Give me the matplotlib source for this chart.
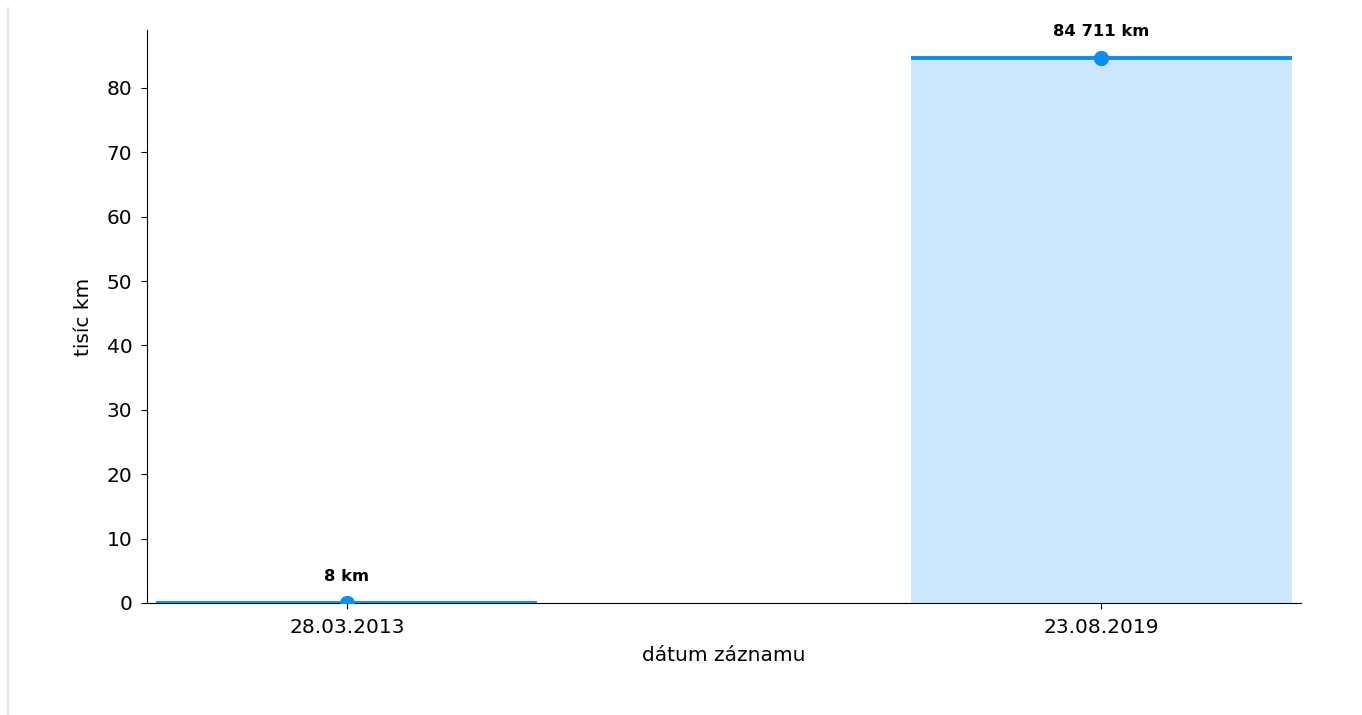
import matplotlib
matplotlib.use("Agg")
import matplotlib.pyplot as plt
from matplotlib.lines import Line2D

# data
dates = ["28.03.2013", "23.08.2019"]
km = [8, 84711]
labels = ["8 km", "84 711 km"]

vals = [v / 1000 for v in km]
pos = list(range(len(dates)))

fig = plt.figure(figsize=(13.62, 7.15), dpi=100)
ax = fig.add_axes([147 / 1362, 1 - 603 / 715, (1301 - 147) / 1362, (603 - 30) / 715])

line_col = "#0a8ef0"
fill_col = "#cce7fc"
w = 0.505

ax.bar(pos, vals, width=w, color=fill_col, zorder=1)
for x, v, lab in zip(pos, vals, labels):
    ax.plot([x - w / 2, x + w / 2], [v, v], color=line_col, lw=2.8, zorder=3, solid_capstyle="butt")
    ax.plot(x, v, "o", color=line_col, ms=10, zorder=4)
    ax.annotate(lab, (x, v), xytext=(0, 13.5), textcoords="offset points",
                ha="center", va="bottom", fontsize=11.8, fontweight="bold")

ax.set_xlim(-0.265, 1.265)
ax.set_ylim(0, 89)
ax.set_xticks(pos)
ax.set_xticklabels(dates)
ax.set_yticks(range(0, 90, 10))
ax.tick_params(labelsize=14.5, length=4.5)
ax.tick_params(axis="x", pad=6.5)
ax.tick_params(axis="y", pad=6)
ax.set_xlabel("dátum záznamu", fontsize=14.5, labelpad=6)
ax.set_ylabel("tisíc km", fontsize=14.5, labelpad=10)
ax.spines["top"].set_visible(False)
ax.spines["right"].set_visible(False)

# thin frame line at the left edge
fig.add_artist(Line2D([8 / 1362, 8 / 1362], [0, 1 - 8 / 715], color="#e6e6e6", lw=1.5))

fig.savefig("out.png", dpi=100)
